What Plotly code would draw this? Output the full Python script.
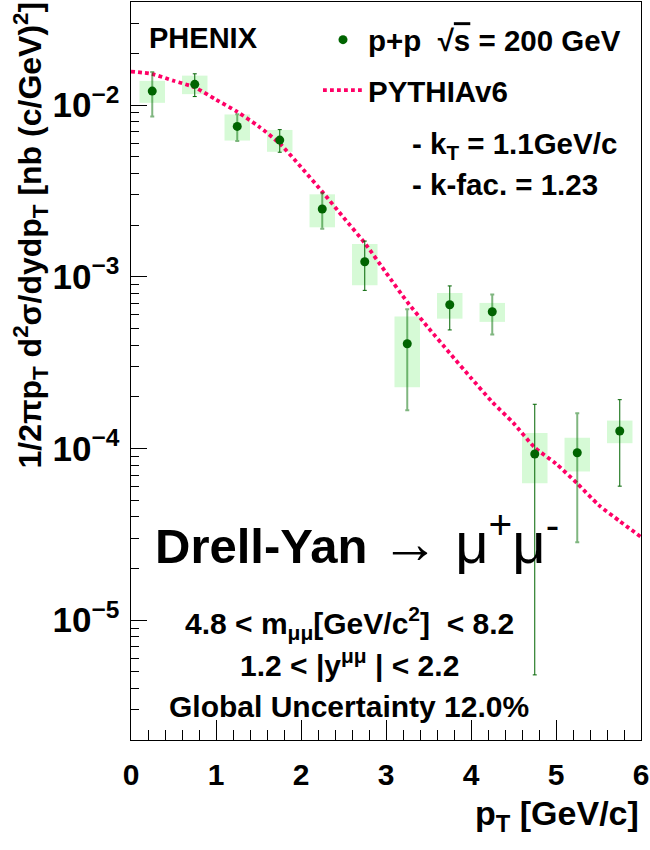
import plotly.graph_objects as go

# ---------------- data ----------------
pt = [0.25, 0.75, 1.25, 1.75, 2.25, 2.75, 3.25, 3.75, 4.25, 4.75, 5.25, 5.75]
xsec = [0.01206, 0.0132, 0.00751, 0.00625, 0.00248, 0.001223, 0.000407,
        0.000687, 0.000625, 9.28e-5, 9.44e-5, 1.263e-4]
stat_err = [0.0035, 0.0020, 0.00133, 0.00094, 0.00058, 0.00039, 0.00024,
            0.000197, 0.000164, 8.8e-5, 6.6e-5, 6.6e-5]
sys_err = [0.00176, 0.00163, 0.0013, 0.00091, 0.00054, 0.00033, 0.00018,
           0.000117, 7.9e-5, 3.0e-5, 2.1e-5, 1.9e-5]
box_halfwidth = 0.15

pythia_pt = [0.0, 0.25, 0.5, 0.75, 1.0, 1.25, 1.5, 1.75, 2.0, 2.25, 2.5, 2.75,
             3.0, 3.25, 3.5, 3.75, 4.0, 4.25, 4.5, 4.75, 5.0, 5.25, 5.5, 5.75, 6.0]
pythia_y = [0.01567, 0.01515, 0.01385, 0.01268, 0.01075, 0.00913, 0.00752,
            0.00597, 0.00435, 0.003126, 0.002215, 0.001571, 0.001057, 0.000713,
            0.000503, 0.000359, 0.0002576, 0.0001864, 0.0001404, 0.0001012,
            8.15e-5, 6.25e-5, 4.69e-5, 3.77e-5, 3.05e-5]

FONT = "Liberation Sans, Arial, Helvetica, sans-serif"
GREEN = "rgb(0,100,0)"
FADED = "rgba(0,110,0,0.5)"
BOX = "rgb(214,250,214)"
PINK = "rgb(255,0,102)"

fig = go.Figure()

# systematic boxes
fig.add_trace(go.Bar(
    x=pt, y=[2 * s for s in sys_err], base=[v - s for v, s in zip(xsec, sys_err)],
    width=2 * box_halfwidth, marker=dict(color=BOX, line=dict(width=0)),
    showlegend=False, hoverinfo="skip"))

# PYTHIA curve
fig.add_trace(go.Scatter(
    x=pythia_pt, y=pythia_y, mode="lines", name="PYTHIAv6",
    line=dict(color=PINK, width=3.8, dash="3.8px,3.2px", shape="spline", smoothing=0.6),
    legendgroup="b", legendrank=2))

# data points: two error-bar shades
idx_a = [i for i in range(len(pt)) if i % 2 == 0]
idx_b = [i for i in range(len(pt)) if i % 2 == 1]
fig.add_trace(go.Scatter(
    x=[pt[i] for i in idx_a], y=[xsec[i] for i in idx_a], mode="markers",
    marker=dict(color=GREEN, size=9),
    error_y=dict(type="data", array=[stat_err[i] for i in idx_a], color=FADED,
                 thickness=2, width=2),
    showlegend=False))
fig.add_trace(go.Scatter(
    x=[pt[i] for i in idx_b], y=[xsec[i] for i in idx_b], mode="markers",
    marker=dict(color=GREEN, size=9),
    error_y=dict(type="data", array=[stat_err[i] for i in idx_b], color=GREEN,
                 thickness=1, width=2),
    name="p+p\u00a0\u00a0\u221a<span style='text-decoration:overline'>s</span> = 200 GeV",
    legendgroup="a", legendrank=1))

# paper coordinate helpers (plot area: x 131..641, y 2..740)
def px(x):
    return (x - 131) / 510.0

def py(y):
    return (740 - y) / 738.0

ann = []
def text(t, x, y, size=29, xanchor="left", yanchor="middle", angle=0, bold=True):
    ann.append(dict(text=t, x=px(x), y=py(y), xref="paper", yref="paper",
                    xanchor=xanchor, yanchor=yanchor, showarrow=False,
                    textangle=angle,
                    font=dict(family=FONT, size=size, color="black",
                              weight="bold" if bold else "normal")))

text("PHENIX", 147, 38)
text("- k<sub>T</sub> = 1.1GeV/c", 410, 145, size=29.5)
text("- k-fac. = 1.23", 410, 185, size=29.5)
text("<b>Drell-Yan</b> <span style='font-size:58px'>\u2192 \u03bc<sup>+</sup>\u03bc<sup>-</sup></span>",
     357, 538, size=49, xanchor="center", bold=False)
text("4.8 < m<sub>\u03bc\u03bc</sub>[GeV/c<sup>2</sup>]\u00a0 < 8.2", 349, 623, size=30,
     xanchor="center")
text("1.2 < |y<sup>\u03bc\u03bc</sup> | < 2.2", 349, 663, size=30, xanchor="center")
text("Global Uncertainty 12.0%", 349, 706, size=30, xanchor="center")
# axis titles
text("p<sub>T</sub> [GeV/c]", 641, 815, size=34, xanchor="right")
text("1/2\u03c0p<sub>T</sub> d<sup>2</sup>\u03c3/dydp<sub>T</sub> [nb (c/GeV)<sup>2</sup>]",
     30, 0, size=32, xanchor="center", yanchor="top", angle=-90)

fig.update_layout(
    width=650, height=850,
    margin=dict(l=131, r=9, t=2, b=110),
    paper_bgcolor="white", plot_bgcolor="white",
    font=dict(family=FONT, color="black"),
    barmode="overlay",
    annotations=ann,
    legend=dict(x=px(318), y=py(14), xanchor="left", yanchor="top",
                bgcolor="rgba(0,0,0,0)", borderwidth=0,
                font=dict(family=FONT, size=29.5, color="black", weight="bold"),
                tracegroupgap=9, itemwidth=40),
)

fig.update_xaxes(
    range=[0, 6], showgrid=False, zeroline=False,
    showline=True, linecolor="black", linewidth=1, mirror=True,
    ticks="inside", ticklen=20, tickcolor="black", tickwidth=1,
    tick0=0, dtick=1, ticklabelstandoff=8,
    tickfont=dict(family=FONT, size=30, color="black", weight="bold"),
    minor=dict(ticks="inside", ticklen=10, dtick=0.2, tick0=0, tickcolor="black",
               tickwidth=1, showgrid=False),
)
fig.update_yaxes(
    type="log", range=[-5.698, -1.400], showgrid=False, zeroline=False,
    showline=True, linecolor="black", linewidth=1, mirror=True,
    ticks="inside", ticklen=16, tickcolor="black", tickwidth=1,
    tick0=0, dtick=1, exponentformat="power", ticklabelstandoff=5,
    tickfont=dict(family=FONT, size=28, color="black", weight="bold"),
    minor=dict(ticks="inside", ticklen=8, dtick="D1", tickcolor="black",
               tickwidth=1, showgrid=False),
)

fig.write_html("out.html",
               config={"displayModeBar": False},
               post_script="document.body.style.margin='0px';"
                           "document.body.style.overflow='hidden';")
